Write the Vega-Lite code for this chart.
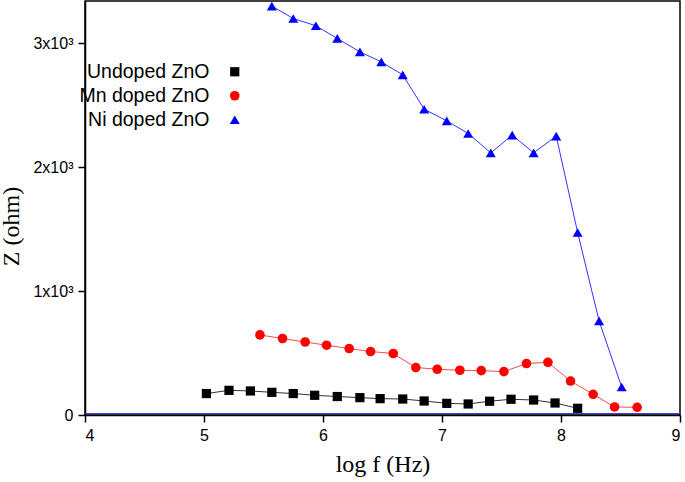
{
  "$schema": "https://vega.github.io/schema/vega-lite/v6.json",
  "width": 595,
  "height": 414,
  "autosize": "none",
  "padding": {"left": 85, "top": 1, "right": 5, "bottom": 67},
  "background": "white",
  "config": {
    "view": {"stroke": "black", "strokeWidth": 1.5},
    "axis": {
      "labelFont": "Liberation Sans",
      "labelFontSize": 16,
      "labelColor": "black",
      "titleFont": "Liberation Serif",
      "titleFontSize": 24,
      "titleFontWeight": "normal",
      "titleColor": "black",
      "domainColor": "black",
      "domainWidth": 1.5,
      "tickColor": "black",
      "tickWidth": 1.5,
      "tickSize": 7,
      "grid": false,
      "zindex": 1
    }
  },
  "data": {
    "values": [
      {"series": "Undoped ZnO", "logf": 5.02, "z": 173},
      {"series": "Undoped ZnO", "logf": 5.21, "z": 199},
      {"series": "Undoped ZnO", "logf": 5.39, "z": 194},
      {"series": "Undoped ZnO", "logf": 5.57, "z": 183},
      {"series": "Undoped ZnO", "logf": 5.75, "z": 173},
      {"series": "Undoped ZnO", "logf": 5.93, "z": 159},
      {"series": "Undoped ZnO", "logf": 6.12, "z": 149},
      {"series": "Undoped ZnO", "logf": 6.31, "z": 140},
      {"series": "Undoped ZnO", "logf": 6.48, "z": 132},
      {"series": "Undoped ZnO", "logf": 6.67, "z": 129},
      {"series": "Undoped ZnO", "logf": 6.85, "z": 113},
      {"series": "Undoped ZnO", "logf": 7.04, "z": 94},
      {"series": "Undoped ZnO", "logf": 7.22, "z": 89},
      {"series": "Undoped ZnO", "logf": 7.40, "z": 111},
      {"series": "Undoped ZnO", "logf": 7.58, "z": 127},
      {"series": "Undoped ZnO", "logf": 7.77, "z": 121},
      {"series": "Undoped ZnO", "logf": 7.95, "z": 97},
      {"series": "Undoped ZnO", "logf": 8.14, "z": 54},
      {"series": "Mn doped ZnO", "logf": 5.47, "z": 646},
      {"series": "Mn doped ZnO", "logf": 5.66, "z": 617},
      {"series": "Mn doped ZnO", "logf": 5.85, "z": 589},
      {"series": "Mn doped ZnO", "logf": 6.03, "z": 563},
      {"series": "Mn doped ZnO", "logf": 6.22, "z": 536},
      {"series": "Mn doped ZnO", "logf": 6.40, "z": 512},
      {"series": "Mn doped ZnO", "logf": 6.59, "z": 496},
      {"series": "Mn doped ZnO", "logf": 6.78, "z": 383},
      {"series": "Mn doped ZnO", "logf": 6.96, "z": 369},
      {"series": "Mn doped ZnO", "logf": 7.15, "z": 361},
      {"series": "Mn doped ZnO", "logf": 7.33, "z": 358},
      {"series": "Mn doped ZnO", "logf": 7.52, "z": 350},
      {"series": "Mn doped ZnO", "logf": 7.71, "z": 415},
      {"series": "Mn doped ZnO", "logf": 7.89, "z": 425},
      {"series": "Mn doped ZnO", "logf": 8.08, "z": 274},
      {"series": "Mn doped ZnO", "logf": 8.27, "z": 167},
      {"series": "Mn doped ZnO", "logf": 8.45, "z": 65},
      {"series": "Mn doped ZnO", "logf": 8.64, "z": 62},
      {"series": "Ni doped ZnO", "logf": 5.57, "z": 3299},
      {"series": "Ni doped ZnO", "logf": 5.75, "z": 3199},
      {"series": "Ni doped ZnO", "logf": 5.94, "z": 3140},
      {"series": "Ni doped ZnO", "logf": 6.12, "z": 3038},
      {"series": "Ni doped ZnO", "logf": 6.31, "z": 2930},
      {"series": "Ni doped ZnO", "logf": 6.49, "z": 2849},
      {"series": "Ni doped ZnO", "logf": 6.67, "z": 2744},
      {"series": "Ni doped ZnO", "logf": 6.85, "z": 2467},
      {"series": "Ni doped ZnO", "logf": 7.04, "z": 2373},
      {"series": "Ni doped ZnO", "logf": 7.22, "z": 2271},
      {"series": "Ni doped ZnO", "logf": 7.41, "z": 2115},
      {"series": "Ni doped ZnO", "logf": 7.59, "z": 2258},
      {"series": "Ni doped ZnO", "logf": 7.77, "z": 2115},
      {"series": "Ni doped ZnO", "logf": 7.96, "z": 2250},
      {"series": "Ni doped ZnO", "logf": 8.14, "z": 1472},
      {"series": "Ni doped ZnO", "logf": 8.32, "z": 759},
      {"series": "Ni doped ZnO", "logf": 8.51, "z": 226}
    ]
  },
  "encoding": {
    "x": {
      "field": "logf",
      "type": "quantitative",
      "scale": {"domain": [4, 9], "nice": false, "zero": false},
      "axis": {"title": "log f (Hz)", "values": [4, 5, 6, 7, 8, 9], "format": "d", "labelPadding": 5, "titleBaseline": "alphabetic", "titleY": 56}
    },
    "y": {
      "field": "z",
      "type": "quantitative",
      "scale": {"domain": [0, 3340], "nice": false},
      "axis": {
        "title": "Z (ohm)",
        "values": [0, 1000, 2000, 3000],
        "labelExpr": "datum.value == 0 ? '0' : (datum.value / 1000) + 'x10³'",
        "labelPadding": 5,
        "titleY": 225,
        "titleX": -62
      }
    }
  },
  "layer": [
    {
      "mark": {"type": "rule", "color": "#3344ee", "strokeWidth": 1, "yOffset": -1.5},
      "encoding": {"y": {"datum": 0}, "x": {"datum": 4}, "x2": {"datum": 9}}
    },
    {
      "transform": [{"filter": "datum.series == 'Undoped ZnO'"}],
      "mark": {"type": "line", "strokeWidth": 1, "color": "#333333"},
      "encoding": {}
    },
    {
      "transform": [{"filter": "datum.series == 'Mn doped ZnO'"}],
      "mark": {"type": "line", "strokeWidth": 1, "color": "#ff4a4a"},
      "encoding": {}
    },
    {
      "transform": [{"filter": "datum.series == 'Ni doped ZnO'"}],
      "mark": {"type": "line", "strokeWidth": 1, "color": "#3333ff"},
      "encoding": {}
    },
    {
      "mark": {"type": "point", "filled": true, "opacity": 1},
      "encoding": {
        "color": {
          "field": "series",
          "type": "nominal",
          "scale": {"domain": ["Undoped ZnO", "Mn doped ZnO", "Ni doped ZnO"], "range": ["black", "#ff0000", "#0000ff"]},
          "legend": {
            "title": null,
            "orient": "none",
            "legendX": 140,
            "legendY": 61,
            "labelFont": "Liberation Sans",
            "labelFontSize": 19.5,
            "labelAlign": "right",
            "labelOffset": -35,
            "symbolOffset": 0,
            "rowPadding": 3,
            "padding": 0,
            "symbolSize": 100,
            "encode": {
              "labels": {
                "fill": {
                  "condition": [
                    {"test": "datum.value == 'Mn doped ZnO'", "value": "#ff0000"},
                    {"test": "datum.value == 'Ni doped ZnO'", "value": "#0000ff"}
                  ],
                  "value": "#000000"
                }
              },
              "symbols": {
                "shape": {
                  "condition": [
                    {"test": "datum.value == 'Undoped ZnO'", "value": "square"},
                    {"test": "datum.value == 'Ni doped ZnO'", "value": "triangle-up"}
                  ],
                  "value": "circle"
                },
                "size": {
                  "condition": [
                    {"test": "datum.value == 'Undoped ZnO'", "value": 85},
                    {"test": "datum.value == 'Ni doped ZnO'", "value": 160}
                  ],
                  "value": 100
                }
              }
            }
          }
        },
        "shape": {
          "field": "series",
          "type": "nominal",
          "scale": {"domain": ["Undoped ZnO", "Mn doped ZnO", "Ni doped ZnO"], "range": ["square", "circle", "triangle-up"]},
          "legend": null
        },
        "size": {
          "field": "series",
          "type": "nominal",
          "scale": {"domain": ["Undoped ZnO", "Mn doped ZnO", "Ni doped ZnO"], "range": [85, 100, 160]},
          "legend": null
        }
      }
    }
  ]
}
